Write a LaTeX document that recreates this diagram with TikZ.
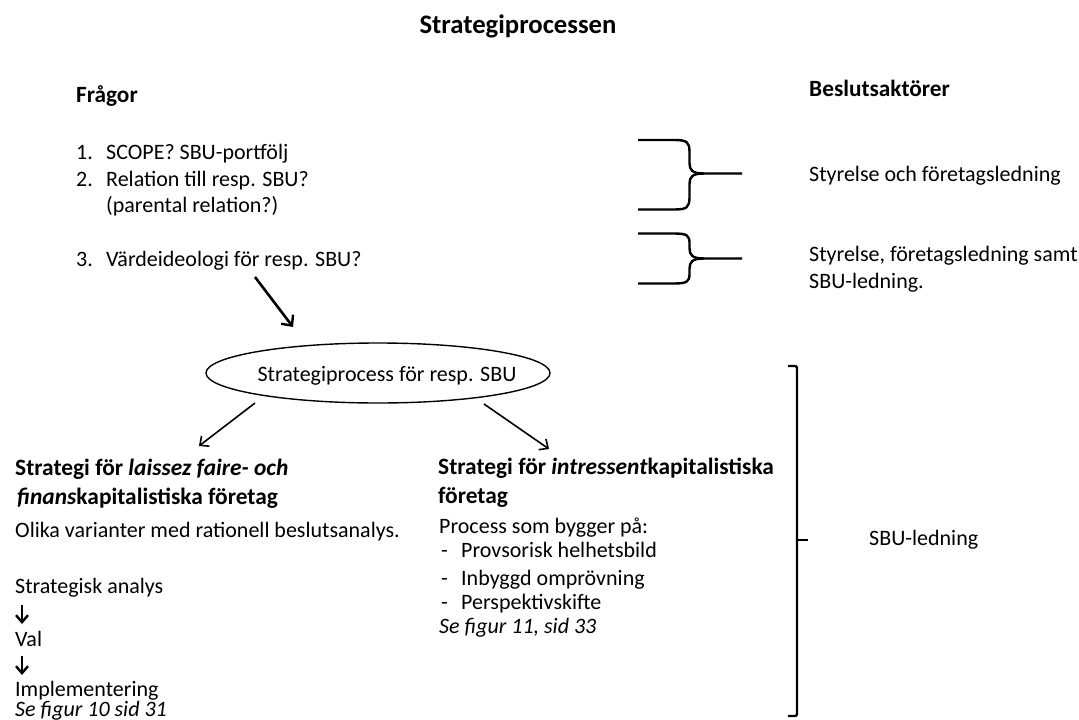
\documentclass[tikz,border=0pt]{standalone}
\usepackage{fontspec}
\setmainfont{Carlito}
\usetikzlibrary{arrows.meta,shapes.geometric}
\begin{document}
\begin{tikzpicture}[x=1pt,y=-1pt,
  txt/.style={anchor=base west,inner sep=0pt,font=\fontsize{22}{26}\selectfont},
  hd/.style={txt,font=\fontsize{23.3}{28}\selectfont\bfseries},
  sec/.style={txt,font=\fontsize{23.4}{28}\selectfont\bfseries},
  refnote/.style={txt,font=\fontsize{22}{26}\selectfont\itshape},
  brace/.style={line width=2.4pt,line join=round},
  bigarr/.style={-{Straight Barb[length=8pt,width=15pt,line width=2.4pt]},line width=2.6pt},
  arr/.style={-{Straight Barb[length=7pt,width=13pt,line width=1.6pt]},line width=1.6pt},
  darr/.style={-{Straight Barb[length=7pt,width=12pt,line width=2.4pt]},line width=2.4pt}
]
\useasboundingbox (0,0) rectangle (1079,720);

% title and column heads
\node[anchor=base,inner sep=0pt,font=\fontsize{26.7}{32}\selectfont\bfseries] (title) at (518,33) {Strategiprocessen};
\node[hd] (fragor) at (76,102) {Frågor};
\node[hd] (aktorer) at (809,96) {Beslutsaktörer};

% questions
\node[txt] (n1) at (76,159) {1.};
\node[txt] (q1) at (106,159) {SCOPE? SBU-portfölj};
\node[txt] (n2) at (76,186.5) {2.};
\node[txt] (q2) at (106,186.5) {Relation till resp. SBU?};
\node[txt] (q2b) at (106,212) {(parental relation?)};
\node[txt] (n3) at (76,266.5) {3.};
\node[txt] (q3) at (106,266.5) {Värdeideologi för resp. SBU?};

% decision makers
\node[txt] (akt1) at (809,181) {Styrelse och företagsledning};
\node[txt] (akt2) at (809,261) {Styrelse, företagsledning samt};
\node[txt] (akt2b) at (809,288.5) {SBU-ledning.};

% braces for questions 1-2 and 3
\draw[brace] (638,140) -- (674,140) .. controls (687,140) and (689.5,142) .. (689.5,152) -- (689.5,163)
  .. controls (689.5,170) and (692,173.5) .. (704,173.5) -- (742,173.5);
\draw[brace] (638,209.5) -- (674,209.5) .. controls (687,209.5) and (689.5,207.5) .. (689.5,197) -- (689.5,184)
  .. controls (689.5,177) and (692,173.5) .. (704,173.5);
\draw[brace] (638,233.5) -- (674,233.5) .. controls (687,233.5) and (689.5,235.5) .. (689.5,243) -- (689.5,248)
  .. controls (689.5,255) and (692,258.5) .. (704,258.5) -- (742,258.5);
\draw[brace] (638,283.5) -- (674,283.5) .. controls (687,283.5) and (689.5,281.5) .. (689.5,274) -- (689.5,269)
  .. controls (689.5,262) and (692,258.5) .. (704,258.5);

% central process
\node[draw,ellipse,line width=1.4pt,minimum width=344pt,minimum height=60pt,inner sep=0pt] (ell) at (378,373) {};
\node[txt,anchor=base] (elltxt) at (387,381) {Strategiprocess för resp. SBU};

\coordinate (q3tail) at (255,277);
\coordinate (ellin) at (293,327);
\draw[bigarr] (q3tail) -- (ellin);

\coordinate (lefttail) at (255,403);
\coordinate (lefthead) at (199,446);
\coordinate (righttail) at (484,404);
\coordinate (righthead) at (549,449);
\draw[arr] (lefttail) -- (lefthead);
\draw[arr] (righttail) -- (righthead);

% left strategy
\node[sec] (lh1) at (15,475) {Strategi för \textit{laissez faire- och}};
\node[sec] (lh2) at (17,504) {\textit{finans}kapitalistiska företag};
\node[txt] (olika) at (15,537) {Olika varianter med rationell beslutsanalys.};
\node[txt] (sa) at (15,593) {Strategisk analys};
\node[txt] (val) at (15,646) {Val};
\node[txt] (impl) at (15,696) {Implementering};
\node[refnote] (fig10) at (15,716) {Se figur 10 sid 31};
\draw[darr] (22,605) -- (22,624);
\draw[darr] (22,656) -- (22,675);

% right strategy
\node[sec] (rh1) at (438,474) {Strategi för \textit{intressent}kapitalistiska};
\node[sec] (rh2) at (438,503) {företag};
\node[txt] (proc) at (439,533) {Process som bygger på:};
\node[txt] (d1) at (441,557) {-};
\node[txt] (p1) at (461,557) {Provsorisk helhetsbild};
\node[txt] (d2) at (441,585) {-};
\node[txt] (p2) at (461,585) {Inbyggd omprövning};
\node[txt] (d3) at (441,609) {-};
\node[txt] (p3) at (461,609) {Perspektivskifte};
\node[refnote] (fig11) at (439,633) {Se figur 11, sid 33};

% bracket for SBU management
\draw[brace,rounded corners=2pt] (788,366) -- (797,366) -- (797,716) -- (788,716);
\draw[brace] (797,540) -- (808,540);
\node[txt] (sbul) at (869,545) {SBU-ledning};

\end{tikzpicture}
\end{document}
